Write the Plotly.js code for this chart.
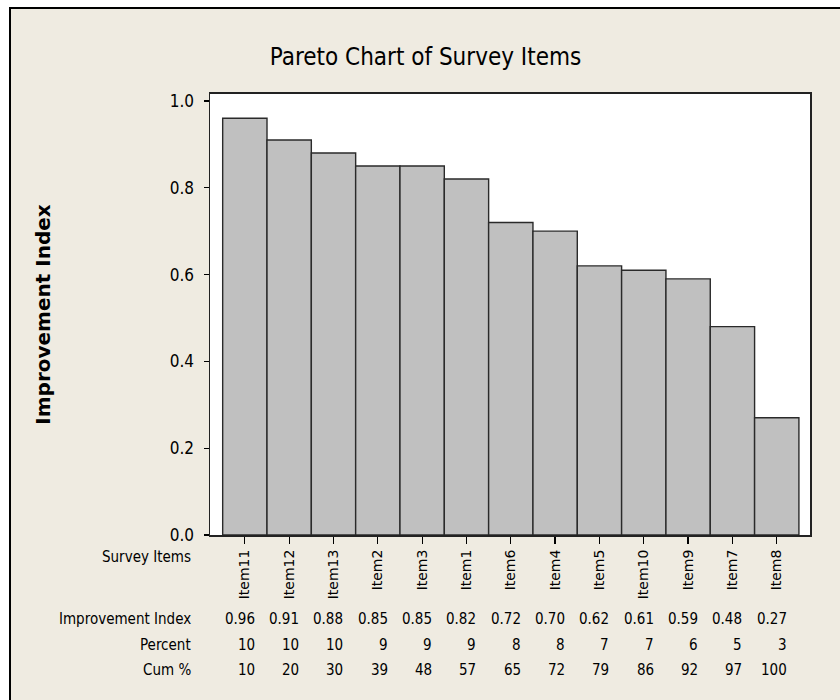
<!DOCTYPE html>
<html>
<head>
<meta charset="utf-8">
<script src="https://cdn.plot.ly/plotly-3.0.1.min.js"></script>
<style>
  html, body { margin: 0; padding: 0; background: #ffffff; width: 840px; height: 700px; overflow: hidden; }
  #chart { position: absolute; left: 9px; top: 7px; width: 829px; height: 691px;
           border-left: 2px solid #000; border-top: 2px solid #000; background: #EFEBE1; }
</style>
</head>
<body>
<div id="chart"></div>
<script>
// ---- data ----
const items = ["Item11", "Item12", "Item13", "Item2", "Item3", "Item1", "Item6",
               "Item4", "Item5", "Item10", "Item9", "Item7", "Item8"];
const improvementIndex = [0.96, 0.91, 0.88, 0.85, 0.85, 0.82, 0.72, 0.70, 0.62, 0.61, 0.59, 0.48, 0.27];
const percent = [10, 10, 10, 9, 9, 9, 8, 8, 7, 7, 6, 5, 3];
const cumPercent = [10, 20, 30, 39, 48, 57, 65, 72, 79, 86, 92, 97, 100];
const rowLabels = ["Survey Items", "Improvement Index", "Percent", "Cum %"];

// ---- styles ----
const BG = "#EFEBE1";
const tableFont = { family: "DejaVu Sans Condensed, DejaVu Sans, sans-serif", size: 15, color: "#000" };
const rowY = [-0.050, -0.1905, -0.2494, -0.3061];

const trace = {
  type: "bar",
  x: items.map((_, i) => i),
  y: improvementIndex,
  width: 1,
  marker: { color: "#C0C0C0", line: { color: "#2a2a2a", width: 1.4 } },
  hoverinfo: "skip"
};

const annotations = [];
rowLabels.forEach((lab, r) => {
  annotations.push({
    xref: "paper", yref: "paper", x: -0.0283, y: rowY[r],
    xanchor: "right", yanchor: "middle", showarrow: false,
    text: lab, font: tableFont
  });
});
const rows = [
  improvementIndex.map(v => v.toFixed(2)),
  percent.map(String),
  cumPercent.map(String)
];
rows.forEach((vals, r) => {
  vals.forEach((t, i) => {
    annotations.push({
      xref: "x", yref: "paper", x: i, y: rowY[r + 1],
      xanchor: "right", yanchor: "middle", xshift: 12, showarrow: false,
      text: t, font: tableFont
    });
  });
});

const layout = {
  width: 829, height: 691,
  paper_bgcolor: BG, plot_bgcolor: "#ffffff",
  margin: { l: 199, r: 30, t: 85, b: 165 },
  showlegend: false,
  title: {
    text: "Pareto Chart of Survey Items",
    xref: "container", x: 0.5, xanchor: "center",
    yref: "container", y: 0.9305, yanchor: "middle",
    font: { family: "DejaVu Sans Condensed, DejaVu Sans, sans-serif", size: 24, color: "#000" }
  },
  xaxis: {
    range: [-0.786, 12.75],
    tickmode: "array", tickvals: items.map((_, i) => i), ticktext: items,
    tickangle: -90,
    ticks: "outside", ticklen: 7, tickwidth: 1.3, tickcolor: "#000",
    tickfont: { family: "DejaVu Sans, sans-serif", size: 14, color: "#000" },
    showline: true, linecolor: "#222", linewidth: 2, mirror: true,
    showgrid: false, zeroline: false, fixedrange: true
  },
  yaxis: {
    range: [0, 1.016],
    tickvals: [0, 0.2, 0.4, 0.6, 0.8, 1.0],
    tickformat: ".1f",
    ticks: "outside", ticklen: 5, tickwidth: 1.3, tickcolor: "#000",
    ticklabelstandoff: 6,
    tickfont: { family: "DejaVu Sans Condensed, DejaVu Sans, sans-serif", size: 17, color: "#000" },
    showline: true, linecolor: "#222", linewidth: 1.5, mirror: true,
    showgrid: false, zeroline: false, fixedrange: true,
    title: {
      text: "Improvement Index",
      standoff: 114,
      font: { family: "DejaVu Sans, sans-serif", size: 20, color: "#000", weight: "bold" }
    }
  },
  bargap: 0,
  annotations: annotations
};

Plotly.newPlot("chart", [trace], layout, { displayModeBar: false, staticPlot: true });
</script>
</body>
</html>
